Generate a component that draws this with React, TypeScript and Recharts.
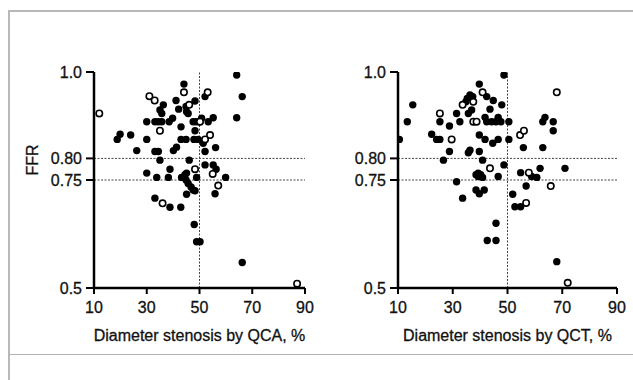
import React from 'react';
import { ScatterChart, Scatter, XAxis, YAxis, ReferenceLine } from 'recharts';

type P = { x: number; y: number };
const pts = (a: number[][]): P[] => a.map(([x, y]) => ({ x, y }));

const xTicks = [10, 30, 50, 70, 90];
const yTicks = [0.5, 0.75, 0.8, 1.0];
const yTickLabels: Record<string, string> = { '0.5': '0.5', '0.75': '0.75', '0.8': '0.80', '1': '1.0' };
const cutoffFFR = [0.8, 0.75];
const cutoffStenosis = 50;

const qcaFilled = pts([
  [64.1, 0.993], [66.2, 0.943], [64.1, 0.894], [44.1, 0.972], [52.1, 0.943], [41.1, 0.934], [36.3, 0.924],
  [35.0, 0.912], [35.7, 0.904], [48.3, 0.933], [44.9, 0.92], [45.1, 0.908], [45.7, 0.904], [42.1, 0.914],
  [30.0, 0.885], [33.1, 0.885], [34.4, 0.885], [35.7, 0.885], [38.5, 0.885], [39.8, 0.893], [47.6, 0.885],
  [48.7, 0.885], [49.8, 0.885], [53.3, 0.885], [55.2, 0.894], [43.0, 0.873], [48.3, 0.864], [19.9, 0.856],
  [18.8, 0.844], [23.9, 0.854], [30.0, 0.844], [43.0, 0.844], [44.9, 0.844], [47.9, 0.844], [49.5, 0.844],
  [51.4, 0.835], [41.3, 0.826], [40.1, 0.818], [56.1, 0.825], [26.2, 0.818], [33.1, 0.816], [34.4, 0.816],
  [52.1, 0.816], [35.0, 0.796], [46.1, 0.796], [52.1, 0.785], [55.2, 0.785], [56.3, 0.775], [38.8, 0.775],
  [30.0, 0.766], [45.1, 0.766], [33.8, 0.756], [38.2, 0.756], [43.2, 0.756], [44.5, 0.762], [44.9, 0.75],
  [45.7, 0.742], [48.9, 0.756], [59.9, 0.756], [46.8, 0.734], [47.6, 0.727], [48.3, 0.725], [45.1, 0.717],
  [55.9, 0.718], [33.1, 0.708], [38.8, 0.687], [42.9, 0.687], [48.0, 0.647], [48.9, 0.607], [50.2, 0.607],
  [66.2, 0.559], [50.8, 0.893],
]);

const qcaOpen = pts([
  [44.1, 0.953], [53.1, 0.953], [31.0, 0.944], [33.0, 0.934], [46.1, 0.924], [12.0, 0.904], [50.2, 0.885],
  [35.0, 0.864], [54.0, 0.854], [52.1, 0.844], [48.3, 0.775], [55.0, 0.764], [57.1, 0.737], [36.0, 0.696],
  [87.0, 0.51],
]);

const qctFilled = pts([
  [48.7, 0.993], [39.7, 0.972], [36.3, 0.947], [37.3, 0.943], [35.3, 0.939], [34.8, 0.931], [42.4, 0.943],
  [44.8, 0.934], [47.9, 0.924], [43.6, 0.914], [36.9, 0.912], [35.7, 0.904], [31.4, 0.904], [15.4, 0.924],
  [13.4, 0.885], [10.5, 0.844], [25.3, 0.885], [28.8, 0.875], [32.6, 0.885], [41.8, 0.895], [42.4, 0.885],
  [44.2, 0.885], [45.8, 0.885], [46.6, 0.895], [47.6, 0.885], [50.5, 0.885], [22.3, 0.856], [24.1, 0.844],
  [25.3, 0.844], [39.7, 0.854], [41.8, 0.844], [46.6, 0.844], [44.6, 0.835], [50.5, 0.844], [55.8, 0.825],
  [62.9, 0.885], [63.7, 0.895], [62.9, 0.825], [66.7, 0.885], [66.7, 0.864], [36.3, 0.819], [35.7, 0.813],
  [28.8, 0.816], [39.7, 0.816], [26.6, 0.796], [40.9, 0.796], [48.7, 0.785], [39.3, 0.766], [39.3, 0.758],
  [46.6, 0.758], [54.8, 0.767], [61.9, 0.777], [71.0, 0.777], [58.8, 0.758], [60.7, 0.756], [56.8, 0.736],
  [51.9, 0.717], [52.7, 0.688], [54.8, 0.688], [68.0, 0.561], [31.4, 0.746], [33.6, 0.708], [38.5, 0.762],
  [40.2, 0.762], [40.9, 0.756], [38.5, 0.727], [39.7, 0.718], [41.5, 0.727], [45.8, 0.65], [42.6, 0.61],
  [45.8, 0.61],
]);

const qctOpen = pts([
  [40.9, 0.953], [37.5, 0.931], [33.6, 0.924], [25.3, 0.904], [37.5, 0.885], [38.7, 0.885], [29.6, 0.844],
  [54.6, 0.854], [56.0, 0.864], [68.0, 0.953], [43.6, 0.777], [57.8, 0.767], [65.8, 0.736], [56.8, 0.697],
  [72.0, 0.512],
]);

const FONT = '"Liberation Sans", Arial, Helvetica, sans-serif';
const TEXT = '#111';

const filledDot = (p: any) => <circle cx={p.cx} cy={p.cy} r={3.7} fill="#000" />;
const openDot = (p: any) => <circle cx={p.cx} cy={p.cy} r={3.2} fill="#fff" stroke="#000" strokeWidth={1.6} />;

const FfrLabel = (props: any) => {
  const vb = props.viewBox || { x: 10, y: 72, width: 84, height: 216 };
  const x = vb.x + 22;
  const y = vb.y + vb.height / 2 - 20;
  return (
    <text x={x} y={y} transform={`rotate(-90 ${x} ${y})`} textAnchor="middle" dominantBaseline="central"
      fontSize={16} fill={TEXT} fontFamily={FONT} stroke={TEXT} strokeWidth={0.3}>FFR</text>
  );
};

const tickStyle = { fontSize: 16, fill: TEXT, fontFamily: FONT, stroke: TEXT, strokeWidth: 0.3 };

const Panel = ({ filled, open, title, yWidth, showFfr, width }: {
  filled: P[]; open: P[]; title: string; yWidth: number; showFfr: boolean; width: number;
}) => (
  <ScatterChart width={width} height={380} margin={{ top: 72, right: width === 320 ? 15 : 16, bottom: 32, left: 10 }}>
    <XAxis type="number" dataKey="x" domain={[10, 90]} ticks={xTicks} interval={0} allowDataOverflow height={60}
      stroke="#000" strokeWidth={2.5} tick={tickStyle} tickSize={6} tickMargin={8}
      axisLine={{ stroke: '#000', strokeWidth: 2.5 }} tickLine={{ stroke: '#000', strokeWidth: 2 }}
      label={{ value: title, position: 'insideBottom', offset: 7, fontSize: 16, fill: TEXT, fontFamily: FONT, stroke: TEXT, strokeWidth: 0.3 }} />
    <YAxis type="number" dataKey="y" domain={[0.5, 1.0]} ticks={yTicks} interval={0} allowDataOverflow width={yWidth}
      tickFormatter={(v: number) => yTickLabels[String(v)] ?? String(v)}
      stroke="#000" strokeWidth={2.5} tick={tickStyle} tickSize={8} tickMargin={4}
      axisLine={{ stroke: '#000', strokeWidth: 2.5 }} tickLine={{ stroke: '#000', strokeWidth: 2 }}
      label={showFfr ? <FfrLabel /> : undefined} />
    {cutoffFFR.map((v) => (
      <ReferenceLine key={v} y={v} stroke="#444" strokeWidth={1} strokeDasharray="2 1.5" />
    ))}
    <ReferenceLine x={cutoffStenosis} stroke="#444" strokeWidth={1} strokeDasharray="2 1.5" />
    <Scatter data={filled} shape={filledDot} isAnimationActive={false} />
    <Scatter data={open} shape={openDot} isAnimationActive={false} />
  </ScatterChart>
);

export default function App() {
  return (
    <div style={{ position: 'absolute', left: 0, top: 0, width: 633, height: 380, background: '#fff', fontFamily: FONT, overflow: 'hidden' }}>
      <div style={{ position: 'absolute', left: 8, top: 10, width: 640, height: 380, borderTop: '2px solid #b8b8b8', borderLeft: '2px solid #b8b8b8' }} />
      <div style={{ position: 'absolute', left: 10, top: 354, width: 630, height: 1, background: '#b0b0b0' }} />
      <div style={{ position: 'absolute', left: 0, top: 0 }}>
        <Panel filled={qcaFilled} open={qcaOpen} title="Diameter stenosis by QCA, %" yWidth={84} showFfr width={320} />
      </div>
      <div style={{ position: 'absolute', left: 320, top: 0 }}>
        <Panel filled={qctFilled} open={qctOpen} title="Diameter stenosis by QCT, %" yWidth={68} showFfr={false} width={313} />
      </div>
    </div>
  );
}
